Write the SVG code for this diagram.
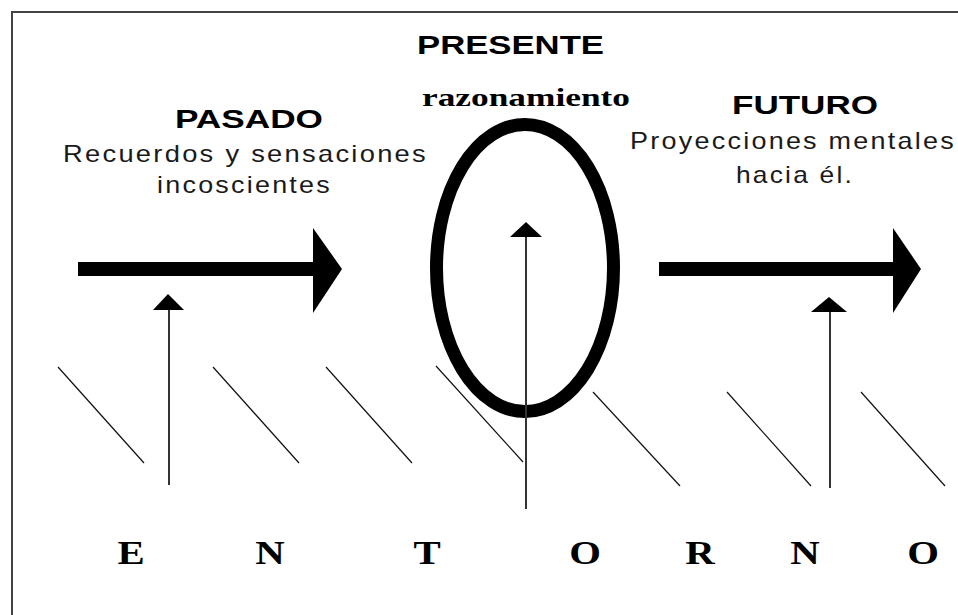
<svg xmlns="http://www.w3.org/2000/svg" width="958" height="615" viewBox="0 0 958 615">
<style>
.frame{fill:none;stroke:#444;stroke-width:2}
.bold{font-family:"Liberation Sans",Arial,sans-serif;font-weight:bold;font-size:25px;fill:#000}
.reg{font-family:"Liberation Sans",Arial,sans-serif;font-size:24px;letter-spacing:2px;fill:#1a1a1a}
.serif{font-family:"Liberation Serif","Times New Roman",serif;font-weight:bold;fill:#000}
.big{fill:#000}
.thin{stroke:#333;stroke-width:2;fill:none}
.hatch{stroke:#111;stroke-width:1.2;fill:none}
.head{fill:#000}
</style>
<rect width="958" height="615" fill="#fff"/>
<path class="frame" d="M12 615 V12 H958"/>

<g id="presente">
<text class="bold" x="417" y="54" textLength="187" lengthAdjust="spacingAndGlyphs">PRESENTE</text>
<text class="serif" x="422" y="106" font-size="26" textLength="208" lengthAdjust="spacingAndGlyphs">razonamiento</text>
<ellipse cx="525" cy="268" rx="88.5" ry="143.5" fill="none" stroke="#000" stroke-width="13"/>
</g>

<g id="pasado">
<text class="bold" x="175" y="128" textLength="148" lengthAdjust="spacingAndGlyphs">PASADO</text>
<text class="reg" x="63" y="162" textLength="365" lengthAdjust="spacingAndGlyphs">Recuerdos y sensaciones</text>
<text class="reg" x="157" y="193" textLength="175" lengthAdjust="spacingAndGlyphs">incoscientes</text>
<path class="big" d="M78 262 H313 V228 L342 269 L313 313 V276 H78 Z"/>
</g>

<g id="futuro">
<text class="bold" x="732" y="114" textLength="146" lengthAdjust="spacingAndGlyphs">FUTURO</text>
<text class="reg" x="630" y="149" textLength="326" lengthAdjust="spacingAndGlyphs">Proyecciones mentales</text>
<text class="reg" x="736" y="183" textLength="118" lengthAdjust="spacingAndGlyphs">hacia él.</text>
<path class="big" d="M659 262 H893 V228 L921 269 L893 313 V276 H659 Z"/>
</g>

<g id="connectors">
<line class="thin" x1="169" y1="485" x2="169" y2="305"/>
<path class="head" d="M168 294 L184 310 H153 Z"/>
<line class="thin" x1="526" y1="509" x2="526" y2="232"/>
<path class="head" d="M526 222 L542 237 H510 Z"/>
<line class="thin" x1="830" y1="488" x2="830" y2="307"/>
<path class="head" d="M829 297 L847 312 H811 Z"/>
</g>

<g id="hatching">
<line class="hatch" x1="58" y1="367" x2="144" y2="463"/>
<line class="hatch" x1="213" y1="367" x2="299" y2="463"/>
<line class="hatch" x1="326" y1="367" x2="412" y2="463"/>
<line class="hatch" x1="436" y1="366" x2="523" y2="462"/>
<line class="hatch" x1="593" y1="392" x2="680" y2="486"/>
<line class="hatch" x1="727" y1="392" x2="811" y2="486"/>
<line class="hatch" x1="861" y1="392" x2="945" y2="486"/>
</g>

<g id="entorno" class="serif" font-size="34" text-anchor="middle">
<text transform="translate(131 564) scale(1.2 1)">E</text>
<text transform="translate(270 564) scale(1.2 1)">N</text>
<text transform="translate(427 564) scale(1.2 1)">T</text>
<text transform="translate(585 564) scale(1.2 1)">O</text>
<text transform="translate(700 564) scale(1.2 1)">R</text>
<text transform="translate(805 564) scale(1.2 1)">N</text>
<text transform="translate(923 564) scale(1.2 1)">O</text>
</g>
</svg>
